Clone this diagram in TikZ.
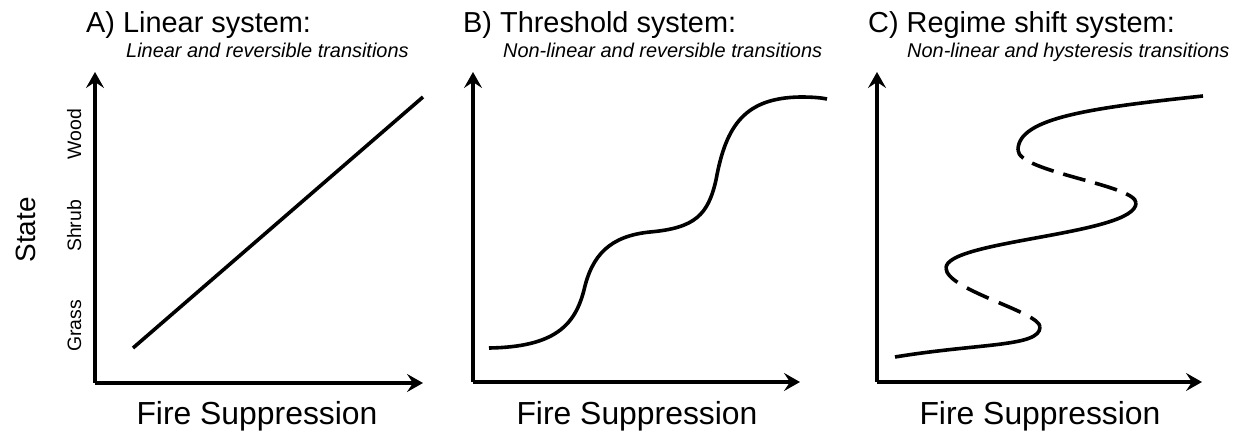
\documentclass[tikz,border=0pt]{standalone}
\usepackage{fontspec}
\setmainfont{Liberation Sans}
\usetikzlibrary{arrows.meta}
\begin{document}
\begin{tikzpicture}[x=1bp,y=-1bp,
  axis/.style={line width=3.4bp,-{Stealth[length=16bp,width=18bp,inset=6bp]}},
  curve/.style={line width=3.6bp},
  dashlow/.style={line width=3.6bp,dash pattern=on 14bp off 11bp on 24bp off 11bp on 24bp off 11bp on 200bp},
  dashup/.style={line width=3.6bp,dash pattern=on 14bp off 10bp on 23bp off 10bp on 23bp off 10bp on 23bp off 10bp on 200bp},
  title/.style={anchor=base west,inner sep=0pt,font=\fontsize{29}{34}\selectfont},
  subtitle/.style={anchor=base west,inner sep=0pt,font=\fontsize{20}{24}\selectfont\itshape},
  xlab/.style={anchor=base,inner sep=0pt,font=\fontsize{32}{38}\selectfont},
  ylab/.style={anchor=base,inner sep=0pt,rotate=90,font=\fontsize{19.5}{23}\selectfont},
  statelab/.style={anchor=base,inner sep=0pt,rotate=90,font=\fontsize{28}{33}\selectfont}]
\useasboundingbox (0,0) rectangle (1245,434);
% ---------- Panel A ----------
\coordinate (Ao) at (95,383);
\coordinate (Ay) at (95,72);
\coordinate (Ax) at (423,383);
\draw[axis] (Ao) -- (Ay);
\draw[axis] (Ao) -- (Ax);
\node[title] (At) at (86,33) {A) Linear system:};
\node[subtitle] (As) at (126,58) {Linear and reversible transitions};
\node[xlab] (Axl) at (257,425) {Fire Suppression};
\node[statelab] (St) at (35,230) {State};
\node[ylab] (Wd) at (81,134) {Wood};
\node[ylab] (Sh) at (81,226) {Shrub};
\node[ylab] (Gr) at (81,326) {Grass};
\coordinate (La) at (133,348);
\coordinate (Lb) at (423,97);
\draw[curve] (La) -- (Lb);
% ---------- Panel B ----------
\coordinate (Bo) at (473,382);
\coordinate (By) at (473,72);
\coordinate (Bx) at (800,382);
\draw[axis] (Bo) -- (By);
\draw[axis] (Bo) -- (Bx);
\node[title] (Bt) at (463,33) {B) Threshold system:};
\node[subtitle] (Bs) at (503,58) {Non-linear and reversible transitions};
\node[xlab] (Bxl) at (637,425) {Fire Suppression};
\draw[curve] (489,348) .. controls (555,347) and (575,325) .. (584,290)
  .. controls (592,255) and (610,236) .. (650,232)
  .. controls (695,228) and (708,215) .. (716,180)
  .. controls (726,125) and (745,98) .. (800,97)
  .. controls (815,97) and (822,98) .. (827,99);
% ---------- Panel C ----------
\coordinate (Co) at (877,382);
\coordinate (Cy) at (877,72);
\coordinate (Cx) at (1202,382);
\draw[axis] (Co) -- (Cy);
\draw[axis] (Co) -- (Cx);
\node[title] (Ct) at (868,33) {C) Regime shift system:};
\node[subtitle] (Cs) at (907,58) {Non-linear and hysteresis transitions};
\node[xlab] (Cxl) at (1040,425) {Fire Suppression};
\coordinate (P0) at (895,357);
\coordinate (F1) at (1040,327);
\coordinate (F2) at (946,268);
\coordinate (F3) at (1136,203);
\coordinate (F4) at (1018,150);
\coordinate (P5) at (1203,96);
\draw[curve] (P0) .. controls (980,343) and (1040,347) .. (F1);
\draw[dashlow] (F1) .. controls (1040,312) and (946,290) .. (F2);
\draw[curve] (F2) .. controls (946,240) and (1136,235) .. (F3);
\draw[dashup] (F3) .. controls (1136,185) and (1018,172) .. (F4);
\draw[curve] (F4) .. controls (1018,118) and (1090,108) .. (P5);
\end{tikzpicture}
\end{document}
